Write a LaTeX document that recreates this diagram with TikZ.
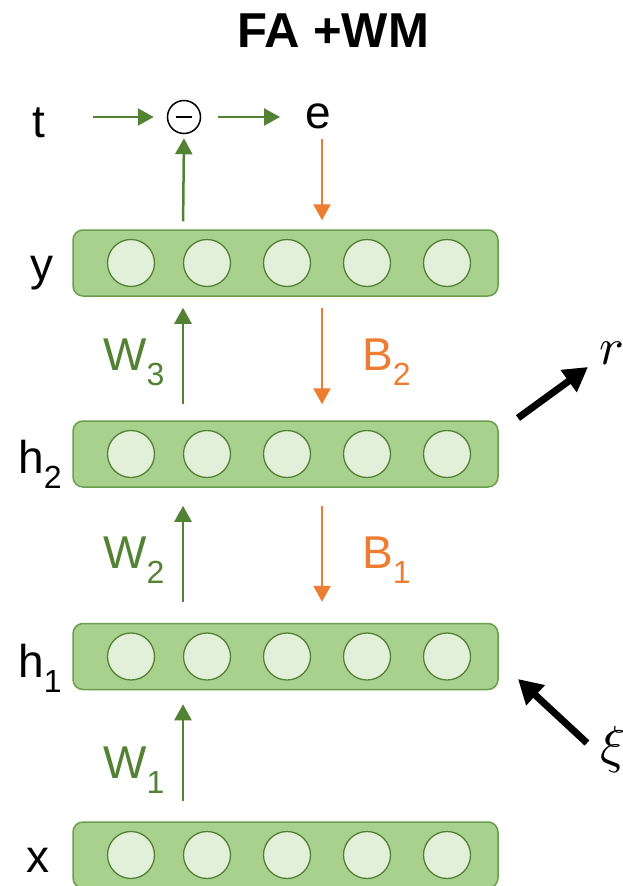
\documentclass[tikz,border=0pt]{standalone}
\usepackage{fontspec}
\setmainfont{Liberation Sans}
\usetikzlibrary{arrows.meta}
\definecolor{barfill}{HTML}{A9D18E}
\definecolor{barline}{HTML}{6A9E4C}
\definecolor{cellfill}{HTML}{E2F0D9}
\definecolor{gr}{HTML}{548235}
\definecolor{org}{HTML}{ED7D31}
\newcommand{\sbs}[1]{\raisebox{-15pt}{\fontsize{32}{32}\selectfont #1}}
\begin{document}
\begin{tikzpicture}[x=1pt,y=-1pt,
  layer/.style={draw=barline, fill=barfill, line width=1.5pt, rounded corners=10pt,
    minimum width=425pt, minimum height=66pt, inner sep=0pt},
  cell/.style={circle, draw=gr, fill=cellfill, line width=1.3pt, minimum size=47pt, inner sep=0pt},
  lab/.style={font=\fontsize{46}{46}\selectfont, inner sep=0pt, anchor=base west},
  glab/.style={lab, text=gr},
  olab/.style={lab, text=org},
  garrow/.style={draw=gr, line width=2.5pt, -{Triangle[length=16pt,width=17pt]}},
  oarrow/.style={draw=org, line width=2.5pt, -{Triangle[length=16pt,width=17pt]}},
  bigarrow/.style={draw=black, line width=7pt, -{Triangle[length=24pt,width=26pt]}}]
\useasboundingbox (0,0) rectangle (623,886);

% title
\node[font=\fontsize{49}{49}\selectfont\bfseries, inner sep=0pt] (title) at (333,31) {FA +WM};

% layers
\foreach \nm/\yy in {ly/263, lh2/454, lh1/656.5, lx/855}{
  \node[layer] (\nm) at (285.5,\yy) {};
  \foreach \k/\xx in {1/131, 2/207, 3/287, 4/367, 5/447}
    \node[cell] (\nm c\k) at (\xx,\yy) {};
}

% side labels
\node[lab] (tlab) at (32,137) {t};
\node[lab] (ylab) at (30,280) {y};
\node[lab] (h2lab) at (18,473) {h\sbs{2}};
\node[lab] (h1lab) at (18,677) {h\sbs{1}};
\node[lab] (xlab) at (26,872) {x};

% top row
\node[circle, draw=black, line width=1.5pt, minimum size=33pt, inner sep=0pt] (minus) at (184,117) {};
\draw[line width=1.5pt] ([xshift=-8pt]minus.center) -- ([xshift=8pt]minus.center);
\node[lab] (elab) at (305,128) {e};
\coordinate (tend) at (93,117);
\coordinate (gcol) at (183,0);
\coordinate (ocol) at (322,0);

\draw[garrow, shorten >=13pt] (tend) -- (minus.west);
\draw[garrow, shorten <=17pt, shorten >=25pt] (minus.east) -- (elab.west |- minus);
\draw[garrow, shorten <=8pt, shorten >=4pt] (ly.north -| gcol) -- (minus.south);
\draw[oarrow, shorten <=10pt, shorten >=9pt] (elab.south -| ocol) -- (ly.north -| ocol);

% between y and h2
\draw[garrow, shorten <=16pt, shorten >=11pt] (lh2.north -| gcol) -- (ly.south -| gcol);
\draw[oarrow, shorten <=11pt, shorten >=16pt] (ly.south -| ocol) -- (lh2.north -| ocol);
\node[glab] (w3) at (103,370) {W\sbs{3}};
\node[olab] (b2) at (362,370) {B\sbs{2}};

% between h2 and h1
\draw[garrow, shorten <=21pt, shorten >=18pt] (lh1.north -| gcol) -- (lh2.south -| gcol);
\draw[oarrow, shorten <=18pt, shorten >=21pt] (lh2.south -| ocol) -- (lh1.north -| ocol);
\node[glab] (w2) at (103,568) {W\sbs{2}};
\node[olab] (b1) at (362,568) {B\sbs{1}};

% between h1 and x
\draw[garrow, shorten <=20pt, shorten >=14pt] (lx.north -| gcol) -- (lh1.south -| gcol);
\node[glab] (w1) at (103,778) {W\sbs{1}};

% r and xi
\node[inner sep=0pt] (r) at (612,353) {\scalebox{5.2}{$r$}};
\node[inner sep=0pt] (xi) at (613,749) {\scalebox{5.2}{$\xi$}};
\coordinate (rtail) at (518,418);
\coordinate (rtip) at (588,367);
\coordinate (xitail) at (587,743);
\coordinate (xitip) at (518,679);
\draw[bigarrow] (rtail) -- (rtip);
\draw[bigarrow] (xitail) -- (xitip);
\end{tikzpicture}
\end{document}
